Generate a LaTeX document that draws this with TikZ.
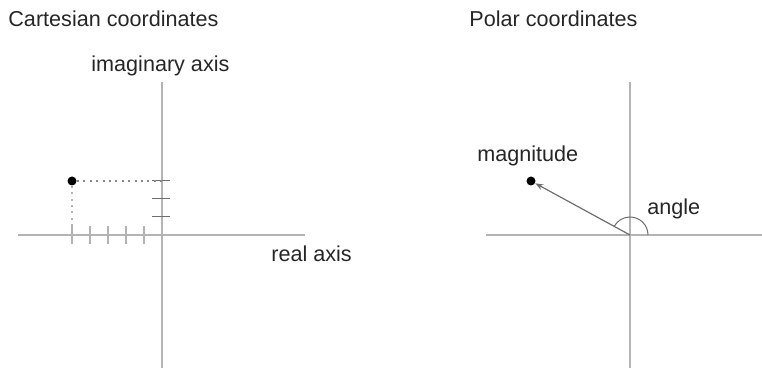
\documentclass[tikz,border=0pt]{standalone}
\usepackage{fontspec}
\setmainfont{Liberation Sans}
\usetikzlibrary{arrows.meta}
\definecolor{axisgray}{HTML}{B4B4B4}
\definecolor{markgray}{HTML}{6E6E6E}
\tikzset{
  axis/.style={axisgray,line width=1pt},
  lbl/.style={anchor=base west,inner sep=0pt,font=\fontsize{10.8}{13}\selectfont,text=black!85},
  dot/.style={circle,fill=black,inner sep=0pt,minimum size=4.5pt},
  guide/.style={line width=0.7pt,dash pattern=on 1pt off 2.2pt},
}
\begin{document}
\begin{tikzpicture}[x=0.5pt,y=-0.5pt]
  \useasboundingbox (0,0) rectangle (762,368);
  % Cartesian
  \node[lbl] (ctitle) at (8,27) {Cartesian coordinates};
  \node[lbl] (imlbl) at (91,72) {imaginary axis};
  \node[lbl] (relbl) at (271,262) {real axis};
  \coordinate (co) at (162,235);
  \draw[axis] (162,82) -- (162,368);
  \draw[axis] (18,235) -- (305,235);
  \foreach \x in {72,90,108,126,144} \draw[axis] (\x,226) -- (\x,244);
  \foreach \y in {181,199,217} \draw[markgray,line width=0.5pt] (152,\y) -- (170,\y);
  \node[dot] (cpt) at (72,181) {};
  \draw[markgray!80,guide] (cpt) -- (co |- cpt);
  \draw[axisgray,guide] (cpt) -- (cpt |- co);
  % Polar
  \node[lbl] (ptitle) at (469,27) {Polar coordinates};
  \node[lbl] (maglbl) at (477,162) {magnitude};
  \node[lbl] (anglbl) at (647,215) {angle};
  \coordinate (po) at (630,235);
  \draw[axis] (630,82) -- (630,368);
  \draw[axis] (486,235) -- (762,235);
  \node[dot] (ppt) at (531,181) {};
  \draw[markgray,line width=0.5pt] (po) ++(18,0) arc[start angle=0,end angle=-151,radius=18];
  \draw[markgray,line width=0.6pt,-{Stealth[open,length=4pt,width=3pt]}] (po) -- (ppt);
\end{tikzpicture}
\end{document}
